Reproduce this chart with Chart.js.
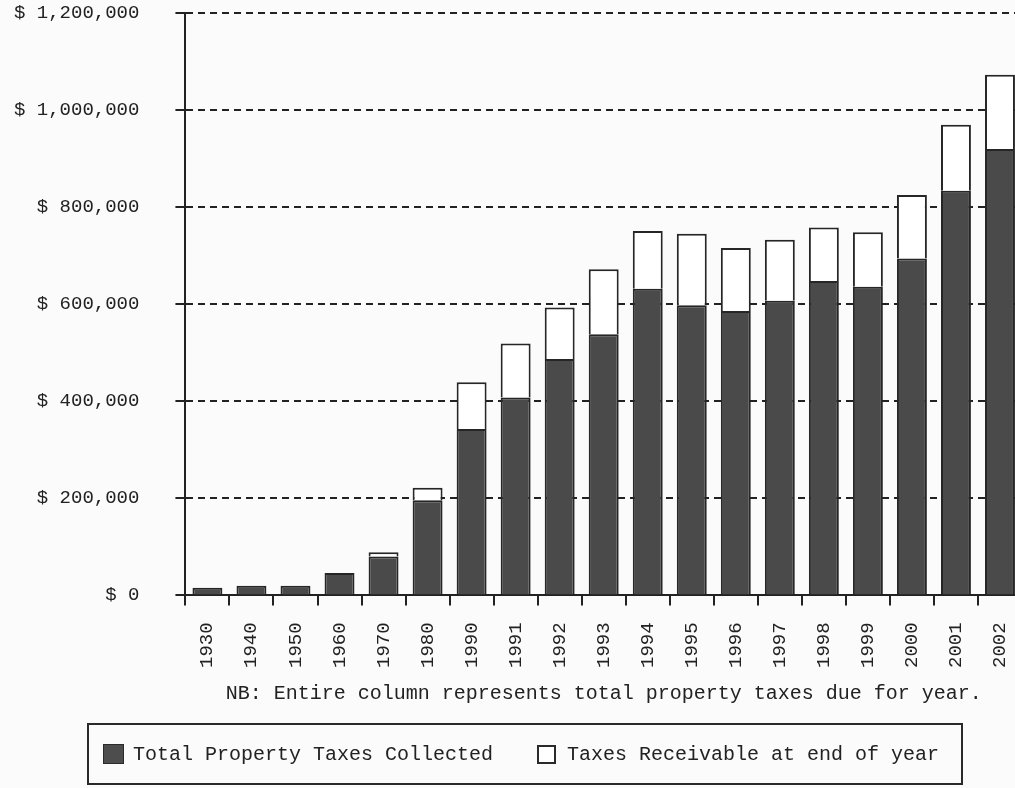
<!DOCTYPE html>
<html>
<head>
<meta charset="utf-8">
<script src="https://cdn.jsdelivr.net/npm/chart.js@4.4.1/dist/chart.umd.min.js"></script>
<style>
  body { margin: 0; width: 1015px; height: 788px; overflow: hidden; background: #fbfbfb; font-family: "Liberation Mono", monospace; }
  #wrap { position: absolute; left: 0; top: 0; width: 1025px; height: 788px; }
  #legenda {
    position: absolute; left: 87px; top: 723px; width: 876px; height: 62px;
    box-sizing: border-box; border: 2px solid #2a2a2a;
    font-size: 20px; color: #222; display: flex; align-items: center; padding-left: 14px;
  }
  .cx { display: inline-block; box-sizing: border-box; }
  .cx.escuro { width: 21px; height: 20px; background: #4d4d4d; border: 1px solid #2a2a2a; margin-right: 9px; }
  .cx.branco { width: 19px; height: 19px; background: #fff; border: 2px solid #2a2a2a; margin-left: 44px; margin-right: 11px; }
</style>
</head>
<body>
<div id="wrap"><canvas id="barChart"></canvas></div>
<div id="legenda">
  <span class="cx escuro"></span><span>Total Property Taxes Collected</span>
  <span class="cx branco"></span><span>Taxes Receivable at end of year</span>
</div>
<script>
const anos = ["1930", "1940", "1950", "1960", "1970", "1980", "1990", "1991", "1992", "1993",
  "1994", "1995", "1996", "1997", "1998", "1999", "2000", "2001", "2002"];

// valores (em dolares)
const arrecadado = [16000, 20000, 20000, 46000, 80000, 196000, 343000, 408000, 487000, 538000,
  632000, 598000, 586000, 607000, 648000, 636000, 694000, 834000, 920000];
const aReceber = [0, 0, 0, 0, 9000, 26000, 96000, 111000, 106000, 134000,
  119000, 147000, 130000, 126000, 110000, 112000, 131000, 136000, 153000];

const ticksY = [0, 200000, 400000, 600000, 800000, 1000000, 1200000];

const fonte = "Liberation Mono";

const data = {
  labels: anos,
  datasets: [
    {
      label: "Total Property Taxes Collected",
      data: arrecadado,
      backgroundColor: "#4a4a4a",
      borderColor: "#262626",
      borderWidth: 2,
      barPercentage: 0.68,
      categoryPercentage: 1,
    },
    {
      label: "Taxes Receivable at end of year",
      data: aReceber,
      backgroundColor: "#ffffff",
      borderColor: "#262626",
      borderWidth: 2,
      barPercentage: 0.68,
      categoryPercentage: 1,
    },
  ],
};

const config = {
  type: "bar",
  data: data,
  options: {
    responsive: true,
    maintainAspectRatio: false,
    animation: false,
    layout: { padding: { left: -22, top: 13, right: 3, bottom: 82 } },
    scales: {
      x: {
        stacked: true,
        afterFit: (eixo) => {
          eixo.paddingLeft = 0;
          eixo.paddingRight = 0;
        },
        grid: { offset: true, drawOnChartArea: false, tickLength: 10, color: "#222", lineWidth: 2 },
        border: { color: "#222", width: 2 },
        ticks: {
          autoSkip: false,
          minRotation: 90,
          maxRotation: 90,
          padding: 17,
          color: "#222",
          font: { family: fonte, size: 19 },
        },
        title: {
          display: true,
          text: "NB: Entire column represents total property taxes due for year.",
          color: "#222",
          padding: { top: -3, bottom: 0 },
          font: { family: fonte, size: 20 },
        },
      },
      y: {
        stacked: true,
        min: 0,
        max: 1200000,
        afterBuildTicks: (eixo) => {
          eixo.ticks = ticksY.map((v) => ({ value: v }));
        },
        afterFit: (eixo) => {
          eixo.paddingTop = 0;
          eixo.paddingBottom = 0;
        },
        grid: { color: "#222", lineWidth: 2, tickLength: 10 },
        border: { color: "#222", width: 2, dash: [7, 5] },
        ticks: {
          padding: 36,
          color: "#222",
          font: { family: fonte, size: 19 },
          callback: (v) => "$ " + Number(v).toLocaleString("en-US"),
        },
      },
    },
    plugins: {
      legend: { display: false },
      tooltip: { enabled: false },
    },
  },
};

new Chart(document.getElementById("barChart"), config);
</script>
</body>
</html>
